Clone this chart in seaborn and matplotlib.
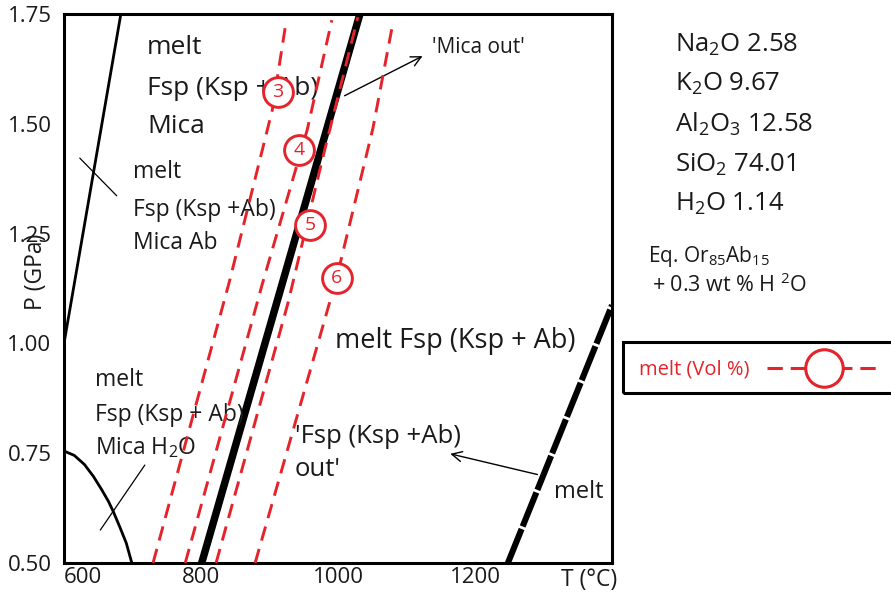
import numpy as np
import pandas as pd
import matplotlib
matplotlib.use("Agg")
import matplotlib.pyplot as plt
import seaborn as sns
from matplotlib.patches import Rectangle
from matplotlib.lines import Line2D

sns.set_theme(style="white")
plt.rcParams['font.family'] = ['Open Sans', 'DejaVu Sans']
plt.rcParams['mathtext.fontset'] = 'custom'
plt.rcParams['mathtext.rm'] = 'Open Sans'
plt.rcParams['mathtext.it'] = 'Open Sans:italic'
plt.rcParams['mathtext.default'] = 'regular'

RED = '#e5232a'

# ---- data (T in degC, P in GPa) ----
left_T = [600, 683]
left_P = [1.00, 1.75]

curve_T = [600, 615, 630, 643, 655, 665, 672, 682, 691, 699]
curve_P = [0.755, 0.745, 0.724, 0.697, 0.667, 0.640, 0.617, 0.580, 0.545, 0.50]

mica_out_T = [801, 1032]
mica_out_P = [0.50, 1.75]

fsp_out_T = [1248, 1400]
fsp_out_P = [0.50, 1.087]

melt3_T = [730, 842, 904, 923]
melt3_P = [0.50, 1.144, 1.531, 1.720]
melt4_T = [777, 890, 955, 991]
melt4_P = [0.50, 1.138, 1.486, 1.736]
melt5_T = [822, 927, 977, 1029]
melt5_P = [0.50, 1.092, 1.418, 1.743]
melt6_T = [879, 998, 1051, 1079]
melt6_P = [0.50, 1.149, 1.490, 1.720]

circle_labels = ['3', '4', '5', '6']
circle_T = [912, 943, 959, 998]
circle_P = [1.572, 1.440, 1.270, 1.149]

x_ticks = [600, 700, 800, 900, 1000, 1100, 1200, 1300]
x_ticklabels = ['600', '', '800', '', '1000', '', '1200', '']
y_ticks = [0.50, 0.75, 1.00, 1.25, 1.50, 1.75]
y_ticklabels = ['0.50', '0.75', '1.00', '1.25', '1.50', '1.75']

composition = [r'Na$_{2}$O 2.58', r'K$_{2}$O 9.67', r'Al$_{2}$O$_{3}$ 12.58',
               r'SiO$_{2}$ 74.01', r'H$_{2}$O 1.14']

# ---- figure ----
W, H = 891, 593
fig = plt.figure(figsize=(W / 100, H / 100), dpi=100)
ax = fig.add_axes([64 / W, 30 / H, 548 / W, 549 / H])
ax.set_xlim(600, 1400)
ax.set_ylim(0.5, 1.75)

def line(T, P, dash=None, **kw):
    df = pd.DataFrame({'T': T, 'P': P})
    n = len(ax.lines)
    sns.lineplot(data=df, x='T', y='P', sort=False, estimator=None, ax=ax, **kw)
    if dash is not None:
        for ln in ax.lines[n:]:
            ln.set_dashes(dash)

line(left_T, left_P, color='black', linewidth=2.0)
line(curve_T, curve_P, color='black', linewidth=2.0)
line(mica_out_T, mica_out_P, color='black', linewidth=5.4, solid_capstyle='butt')
line(fsp_out_T, fsp_out_P, dash=(6, 0.45), color='black', linewidth=4.4)
for T, P in [(melt3_T, melt3_P), (melt4_T, melt4_P), (melt5_T, melt5_P), (melt6_T, melt6_P)]:
    line(T, P, dash=(5.0, 3.0), color=RED, linewidth=2.1, zorder=4)

# circles
cdf = pd.DataFrame({'T': circle_T, 'P': circle_P})
sns.scatterplot(data=cdf, x='T', y='P', s=460, facecolor='white', edgecolor=RED,
                linewidth=2.1, ax=ax, zorder=6)
for lab, T, P in zip(circle_labels, circle_T, circle_P):
    ax.text(T, P, lab, color=RED, fontsize=14, ha='center', va='center', zorder=7)

# pointer lines
ax.plot([623, 677], [1.422, 1.336], color='black', lw=0.9)
ax.plot([653, 718], [0.575, 0.723], color='black', lw=0.9)
ax.annotate('', xy=(1127, 1.657), xytext=(1006, 1.561),
            arrowprops=dict(arrowstyle='->', color='black', lw=1.0, mutation_scale=18))
ax.annotate('', xy=(1160, 0.750), xytext=(1295, 0.700),
            arrowprops=dict(arrowstyle='->', color='black', lw=1.0, mutation_scale=18))

# region labels
tc = '#1a1a1a'
for s, P in [('melt', 1.673), ('Fsp (Ksp + Ab)', 1.581), ('Mica', 1.493)]:
    ax.text(721, P, s, fontsize=19, va='center', ha='left', color=tc, zorder=3)
for s, P in [('melt', 1.390), ('Fsp (Ksp +Ab)', 1.304), ('Mica Ab', 1.229)]:
    ax.text(701, P, s, fontsize=16.5, va='center', ha='left', color=tc, zorder=3)
for s, P in [('melt', 0.917), ('Fsp (Ksp + Ab)', 0.837), (r'Mica H$_{2}$O', 0.762)]:
    ax.text(645, P, s, fontsize=16.5, va='center', ha='left', color=tc, zorder=3)
ax.text(1137, 1.673, "'Mica out'", fontsize=15, va='center', ha='left', color=tc)
ax.text(996, 1.005, 'melt Fsp (Ksp + Ab)', fontsize=19.5, va='center', ha='left', color=tc)
ax.text(937, 0.787, "'Fsp (Ksp +Ab)", fontsize=18.5, va='center', ha='left', color=tc)
ax.text(937, 0.714, "out'", fontsize=18.5, va='center', ha='left', color=tc)
ax.text(1316, 0.662, 'melt', fontsize=17, va='center', ha='left', color=tc)

# axes styling
ax.set_xticks(x_ticks)
ax.set_xticklabels(x_ticklabels)
ax.set_yticks(y_ticks)
ax.set_yticklabels(y_ticklabels)
ax.tick_params(axis='x', direction='in', length=7, width=2, labelsize=16, pad=3,
               colors='black', labelcolor=tc)
ax.tick_params(axis='y', direction='in', length=9, width=2, labelsize=16, pad=9,
               colors='black', labelcolor=tc)
ax.get_xticklabels()[0].set_ha('left')
ax.set_xlabel('')
ax.set_ylabel('')
for sp in ax.spines.values():
    sp.set_visible(True)
    sp.set_color('black')
    sp.set_linewidth(2.2)

fig.text(36 / W, 1 - 272 / H, 'P (GPa)', rotation=90, fontsize=16.5, ha='center',
         va='center', color=tc)
fig.text(589 / W, 1 - 580 / H, 'T (°C)', fontsize=16.5, ha='center', va='center', color=tc)

# composition text
for s, y in zip(composition, [45, 84, 124, 165, 204]):
    fig.text(675 / W, 1 - y / H, s, fontsize=18.5, ha='left', va='center', color=tc)
fig.text(648 / W, 1 - 257 / H, r'Eq. Or$_{85}$Ab$_{15}$', fontsize=15, ha='left',
         va='center', color=tc)
fig.text(652 / W, 1 - 285 / H, r'+ 0.3 wt % H $^{2}$O', fontsize=15.5, ha='left',
         va='center', color=tc)

# legend box
ft = fig.transFigure
fig.add_artist(Rectangle((623 / W, 1 - 393 / H), 300 / W, 51 / H, transform=ft,
                         fill=False, edgecolor='black', linewidth=2.2, clip_on=False))
fig.text(639 / W, 1 - 369 / H, 'melt (Vol %)', fontsize=14.5, color=RED, ha='left',
         va='center')
fig.add_artist(Line2D([767 / W, 878 / W], [1 - 368 / H, 1 - 368 / H], transform=ft,
                      color=RED, linewidth=2.2, dashes=(5, 2.6)))
fig.add_artist(Line2D([824 / W], [1 - 368 / H], transform=ft, marker='o',
                      markersize=27, markerfacecolor='white', markeredgecolor=RED,
                      markeredgewidth=2.2, linestyle='none'))

fig.savefig('out.png', dpi=100)
